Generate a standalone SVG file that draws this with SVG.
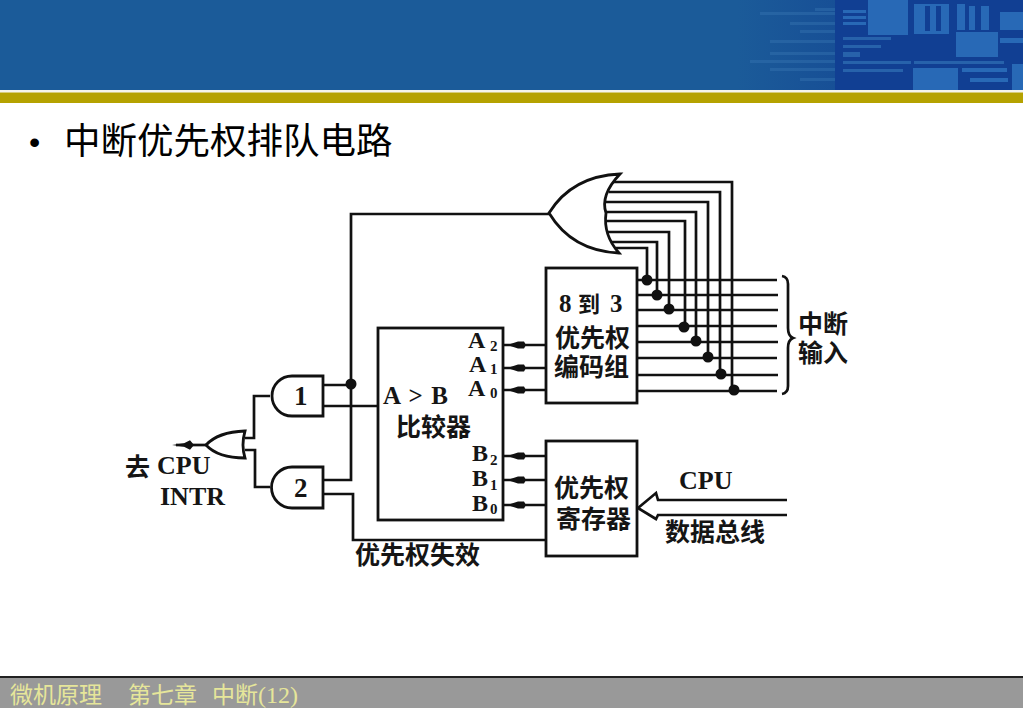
<svg xmlns="http://www.w3.org/2000/svg" width="1023" height="708" viewBox="0 0 1023 708">
<style>
.w{fill:none;stroke:#111;stroke-width:2.7;stroke-linejoin:miter}
.b{fill:#fff;stroke:#111;stroke-width:2.8}
.t{font-family:"Noto Sans CJK SC",sans-serif;font-weight:700;fill:#151515;font-size:25px}
.l{font-family:"Liberation Serif",serif;font-weight:700;fill:#151515;font-size:25px}
.a{font-family:"Liberation Serif",serif;font-weight:700;fill:#151515;font-size:24px}
.s{font-family:"Liberation Serif",serif;font-weight:700;fill:#151515;font-size:15px}
.f{font-family:"Noto Sans CJK SC",serif;font-size:23px;fill:#e6e69a}
.c{fill:#2869b6}.d{fill:#2762ab}.m{fill:#3a78b4;opacity:.4}
</style>
<defs>
<linearGradient id="bg" x1="0" x2="1" y1="0" y2="0"><stop offset="0" stop-color="#1b5b99"/><stop offset=".72" stop-color="#1b5b99"/><stop offset=".82" stop-color="#174f96"/><stop offset="1" stop-color="#103f92"/></linearGradient>
</defs>
<rect width="1023" height="708" fill="#fff"/>
<g id="banner">
<rect width="1023" height="90" fill="url(#bg)"/>
<rect x="835" width="188" height="90" fill="#113f93"/>
<rect class="c" x="868" width="40" height="35"/>
<rect class="c" x="843" y="10" width="23" height="3"/><rect class="c" x="843" y="16" width="23" height="3"/><rect class="c" x="843" y="22" width="23" height="3"/>
<rect class="c" x="914" y="4" width="35" height="30"/><rect fill="#113f93" x="925" y="6" width="5" height="25"/><rect fill="#113f93" x="936" y="6" width="5" height="25"/>
<rect class="c" x="957" y="4" width="8" height="26"/><rect class="c" x="969" y="6" width="6" height="24"/><rect class="c" x="981" y="6" width="8" height="24"/>
<rect class="c" x="956" y="32" width="42" height="25"/>
<rect class="c" x="1000" y="12" width="23" height="18"/><rect class="c" x="1000" y="38" width="23" height="5"/>
<rect class="c" x="913" y="68" width="45" height="22"/><rect class="c" x="962" y="68" width="45" height="4"/><rect class="c" x="970" y="78" width="38" height="4"/><rect class="c" x="1012" y="64" width="11" height="26"/>
<rect class="d" x="843" y="37" width="48" height="3"/><rect class="d" x="843" y="45" width="38" height="3"/><rect class="d" x="843" y="52" width="17" height="5"/>
<rect class="d" x="843" y="61" width="68" height="3"/><rect class="d" x="843" y="69" width="60" height="3"/>
<rect class="d" x="914" y="61" width="90" height="3"/>
<path class="m" d="M760,12h75v3h-75zM790,22h45v3h-45zM800,30h35v3h-35zM770,40h65v3h-65zM770,52h65v3h-65zM750,60h85v3h-85zM770,68h65v3h-65zM800,78h35v3h-35zM815,8h20v3h-20z"/>
<rect y="90" width="1023" height="2.500" fill="#f4f4ea"/>
<rect y="92.500" width="1023" height="10.500" fill="#b5a200"/>
</g>
<g id="title">
<text x="29" y="153" font-family="Liberation Sans,sans-serif" font-size="32" fill="#000">•</text>
<text x="64" y="154" font-family="&quot;Noto Sans CJK SC&quot;,sans-serif" font-size="36.500" fill="#000">中断优先权排队电路</text>
</g>
<g id="connectors">
<path class="w" d="M549,214H351V480H323M323,385H351M323,406H378M323,494H353V540H545"/>
<path class="w" d="M270,396H254V438H245M245,450H255V487H270"/>
<path class="w" d="M206,445H176"/>
<path d="M172,445l12,-1.800 6,-3 4,4.800 -4,4.800 -6,-3z" fill="#111"/>
<path class="w" d="M612,182H732V391M609,192H720V375M606,202H708V358M606,212H696V342M606,221H685V327M608,232H669V310M611,242H657V295M616,248H647V281"/>
<path class="w" d="M637,280H777M637,295H778M637,310H778M637,326H777M637,342H778M637,358H777M637,375H778M637,391H777"/>
<g fill="#111"><circle cx="351" cy="384" r="5.500"/><circle cx="647" cy="280" r="5.500"/><circle cx="657" cy="295" r="5.500"/><circle cx="669" cy="309" r="5.500"/><circle cx="684" cy="327" r="5.500"/><circle cx="696" cy="341" r="5.500"/><circle cx="708" cy="357" r="5.500"/><circle cx="721" cy="374" r="5.500"/><circle cx="734" cy="390" r="5.500"/></g>
<path class="w" d="M503,345H545M503,368H545M503,390H545M503,456H545M503,480H545M503,505H545"/>
<g fill="#111"><path d="M507,345l11,-3.500h6l2,3.500 -2,3.500h-6zM507,368l11,-3.500h6l2,3.500 -2,3.500h-6zM507,390l11,-3.500h6l2,3.500 -2,3.500h-6zM507,456l11,-3.500h6l2,3.500 -2,3.500h-6zM507,480l11,-3.500h6l2,3.500 -2,3.500h-6zM507,505l11,-3.500h6l2,3.500 -2,3.500h-6z"/></g>
<path class="w" d="M787,500H658L656,493 638,508 656,519 658,515H787"/>
<path class="w" d="M782,276Q788,277 788,284V328Q788,336 793,338Q788,340 788,348V386Q788,393 782,394"/>
</g>
<g id="or-main"><path class="b" d="M549,213Q572,176 620,174Q600,195 606,213Q603,235 619,253Q572,251 549,213Z"/></g>
<g id="encoder"><rect class="b" x="546" y="268" width="91" height="135"/>
<text class="l" x="559" y="312">8</text><text class="t" x="578" y="312" style="font-size:22px">到</text><text class="l" x="610" y="312">3</text>
<text class="t"><tspan x="555" y="347">优先权</tspan><tspan x="554" y="376">编码组</tspan></text></g>
<g id="comparator"><rect class="b" x="378" y="328" width="125" height="192"/>
<text class="l" x="383" y="404" textLength="65">A &gt; B</text><text class="t" x="396" y="436">比较器</text>
<text class="a" x="468" y="348">A</text><text class="s" x="490" y="351">2</text>
<text class="a" x="469" y="372">A</text><text class="s" x="490" y="374">1</text>
<text class="a" x="468" y="396">A</text><text class="s" x="490" y="398">0</text>
<text class="a" x="472" y="461">B</text><text class="s" x="490" y="465">2</text>
<text class="a" x="472" y="486">B</text><text class="s" x="490" y="490">1</text>
<text class="a" x="472" y="511">B</text><text class="s" x="490" y="514">0</text></g>
<g id="register"><rect class="b" x="546" y="441" width="91" height="115"/>
<text class="t"><tspan x="554" y="497">优先权</tspan><tspan x="556" y="528">寄存器</tspan></text></g>
<g id="and1"><path class="b" d="M323,376H292A20,20 0 0 0 292,416H323Z"/><text class="l" x="294" y="405" style="font-size:27px">1</text></g>
<g id="and2"><path class="b" d="M323,467H292A20.500,20.500 0 0 0 292,508H323Z"/><text class="l" x="294" y="497" style="font-size:27px">2</text></g>
<g id="or-small"><path class="b" d="M206,445Q218,432 245,431Q241,445 245,458Q218,458 206,445Z"/></g>
<g id="labels">
<text class="t" x="125" y="476">去</text><text class="l" x="157" y="474" style="font-size:26px">CPU</text><text class="l" x="160" y="505" style="font-size:26px">INTR</text>
<text class="t" x="355" y="564">优先权失效</text>
<text class="l" x="679" y="489" style="font-size:26px">CPU</text><text class="t" x="665" y="541">数据总线</text>
<text class="t"><tspan x="798" y="333">中断</tspan><tspan x="798" y="362">输入</tspan></text>
</g>
<g id="footer">
<rect y="676" width="1023" height="32" fill="#999"/><rect y="676" width="1023" height="2" fill="#222"/>
<text class="f" x="10" y="703">微机原理</text>
<text class="f" x="128" y="703">第七章</text>
<text class="f" x="212" y="703">中断<tspan font-family="Liberation Serif,serif" font-size="24">(12)</tspan></text>
</g>
</svg>
